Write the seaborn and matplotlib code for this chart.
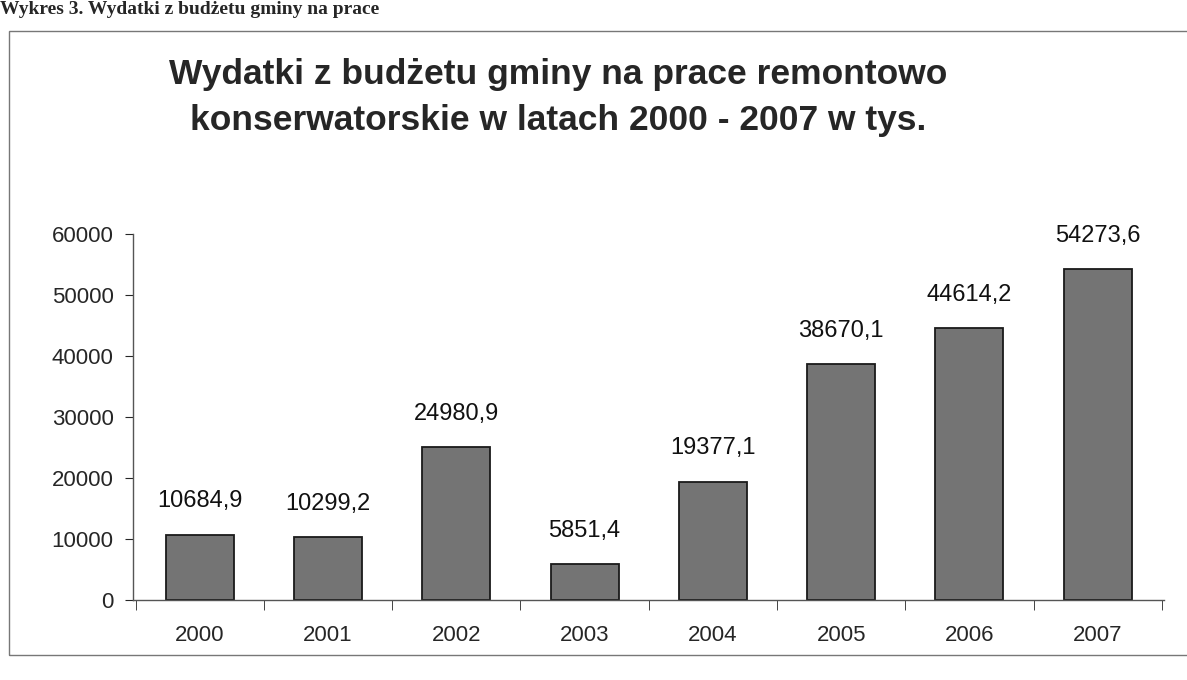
import matplotlib
matplotlib.use("Agg")
import matplotlib.pyplot as plt
import matplotlib.patches as patches
import seaborn as sns
import pandas as pd

years = ["2000", "2001", "2002", "2003", "2004", "2005", "2006", "2007"]
wydatki = [10684.9, 10299.2, 24980.9, 5851.4, 19377.1, 38670.1, 44614.2, 54273.6]

df = pd.DataFrame({"rok": years, "wydatki": wydatki})

sns.set_style("white")
plt.rcParams["font.family"] = ["Liberation Sans", "DejaVu Sans"]

fig = plt.figure(figsize=(11.87, 6.8), dpi=100)
ax = fig.add_axes([0.112, 0.118, 0.869, 0.538])

sns.barplot(data=df, x="rok", y="wydatki", color="#747474", width=0.53,
            edgecolor="#1a1a1a", linewidth=1.3, saturation=1, ax=ax)

# data labels with Polish decimal comma
labels = [f"{v:.1f}".replace(".", ",") for v in wydatki]
ax.bar_label(ax.containers[0], labels=labels, padding=16, fontsize=17, color="#111111")

ax.set_ylim(0, 60000)
ax.set_xlim(-0.52, 7.52)
ax.set_yticks(range(0, 60001, 10000))
ax.set_xlabel("")
ax.set_ylabel("")
ax.tick_params(axis="y", labelsize=16, length=6, direction="out", left=True, pad=8)
ax.tick_params(axis="x", labelsize=16, length=0, pad=18)
ax.set_xticks([i + 0.5 for i in range(-1, 8)], minor=True)
ax.tick_params(axis="x", which="minor", length=7, direction="out", bottom=True)
sns.despine(ax=ax)
for s in ["left", "bottom"]:
    ax.spines[s].set_color("#555555")
    ax.spines[s].set_linewidth(1.0)

fig.text(0.47, 0.856, "Wydatki z budżetu gminy na prace remontowo\nkonserwatorskie w latach 2000 - 2007 w tys.",
         ha="center", va="center", fontsize=25.5, fontweight="bold", linespacing=1.5)

# frame around the chart
frame = patches.Rectangle((0.008, 0.037), 1.0, 0.918, transform=fig.transFigure,
                          fill=False, edgecolor="#777777", linewidth=1.0)
fig.patches.append(frame)

# caption of the scanned page
fig.text(0.0, 0.998, "Wykres 3. Wydatki z budżetu gminy na prace",
         ha="left", va="top", fontsize=14, fontweight="bold",
         family=["Liberation Serif", "DejaVu Serif"])

fig.savefig("out.png", dpi=100)
